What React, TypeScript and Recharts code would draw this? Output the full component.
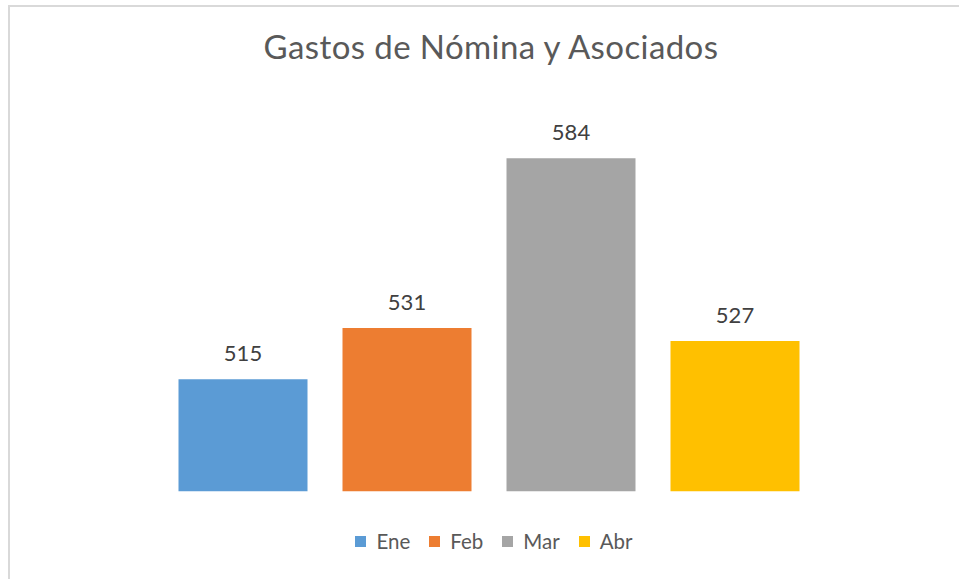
import React from 'react';
import { BarChart, Bar, XAxis, YAxis, LabelList, Legend } from 'recharts';

const title = 'Gastos de Nómina y Asociados';
const categories = ['Ene', 'Feb', 'Mar', 'Abr'];
const values = [515, 531, 584, 527];
const colors = ['#5B9BD5', '#ED7D31', '#A5A5A5', '#FFC000'];
const yDomain: [number, number] = [480, 600];

const row: Record<string, string | number> = { name: '' };
categories.forEach((c, i) => {
  row[c] = values[i];
});
const data = [row];

const FONT = 'Lato, "Noto Sans", sans-serif';

const LegendContent = () => (
  <div
    style={{
      display: 'flex',
      justifyContent: 'center',
      alignItems: 'center',
      marginLeft: 29,
      height: 20,
      lineHeight: '20px',
      fontSize: 20.5,
      color: '#595959',
      fontFamily: FONT,
    }}
  >
    {categories.map((c, i) => (
      <span
        key={c}
        style={{ display: 'flex', alignItems: 'center', marginRight: i < categories.length - 1 ? 19 : 0 }}
      >
        <span style={{ display: 'inline-block', width: 11, height: 11, background: colors[i], marginRight: 10 }} />
        <span>{c}</span>
      </span>
    ))}
  </div>
);

export default function App() {
  return (
    <div
      style={{
        position: 'absolute',
        left: 0,
        top: 0,
        width: 959,
        height: 579,
        overflow: 'hidden',
        background: '#ffffff',
        fontFamily: FONT,
      }}
    >
      <div
        style={{
          position: 'absolute',
          left: 8,
          top: 5,
          width: 1100,
          height: 1100,
          border: '2px solid #D9D9D9',
          boxSizing: 'border-box',
        }}
      />
      <svg style={{ position: 'absolute', left: 0, top: 0 }} width={959} height={579}>
        <text
          x={491}
          y={59}
          textAnchor="middle"
          fontSize={33}
          letterSpacing={0.4}
          fill="#595959"
          fontFamily={FONT}
        >
          {title}
        </text>
      </svg>
      <div style={{ position: 'absolute', left: 0, top: 0 }}>
        <BarChart
          width={959}
          height={579}
          data={data}
          margin={{ top: 107, right: 142.5, bottom: 87.5, left: 161.5 }}
          barGap={35}
        >
          <XAxis dataKey="name" hide />
          <YAxis hide domain={yDomain} allowDataOverflow />
          <Legend
            content={<LegendContent />}
            wrapperStyle={{ top: 531, bottom: 'auto', left: 0, width: 959, height: 0, overflow: 'visible' }}
          />
          {categories.map((c, i) => (
            <Bar key={c} dataKey={c} fill={colors[i]} barSize={129} isAnimationActive={false}>
              <LabelList
                dataKey={c}
                position="top"
                offset={18}
                fill="#404040"
                fontSize={22}
                fontFamily={FONT}
              />
            </Bar>
          ))}
        </BarChart>
      </div>
    </div>
  );
}
